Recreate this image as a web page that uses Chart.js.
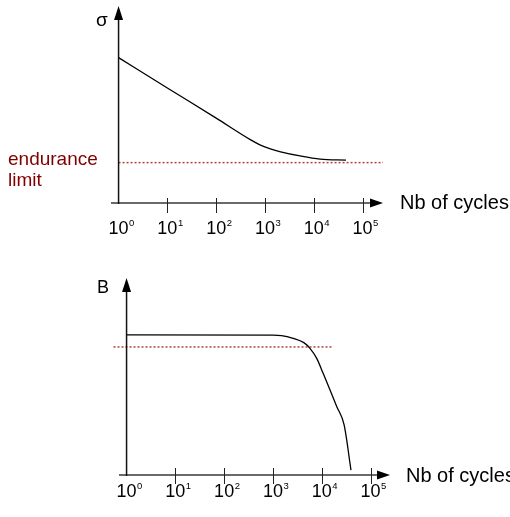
<!DOCTYPE html>
<html>
<head>
<meta charset="utf-8">
<script src="https://cdn.jsdelivr.net/npm/chart.js@4/dist/chart.umd.min.js"></script>
<style>
  html, body { margin: 0; padding: 0; background: #fff; }
  .wrap { position: relative; width: 510px; height: 517px; }
  canvas { position: absolute; left: 0; }
  #top { top: 0; }
  #bottom { top: 258px; }
</style>
</head>
<body>
<div class="wrap">
  <canvas id="top" width="510" height="258"></canvas>
  <canvas id="bottom" width="510" height="259"></canvas>
</div>
<script>
// x ticks (cycles, log scale) and their exponents
const tickValues = [1, 10, 100, 1000, 10000, 100000];
const tickExponents = ['0', '1', '2', '3', '4', '5'];

// top: stress vs number of cycles
const sigmaCycles = [1, 10, 100, 500, 810, 1290, 2090, 5250, 13500, 45700];
const sigmaValues = [73.8, 58.4, 43.1, 32.2, 29.4, 27.5, 26.0, 23.9, 22.3, 21.8];
const enduranceCycles = [1, 262000];
const enduranceValues = [20.5, 20.5];

// bottom: B vs number of cycles
const bCycles = [1, 1000, 1500, 2600, 4300, 5750, 7900, 10700, 14800, 20400, 28800, 39800];
const bValues = [71.1, 71.0, 70.8, 69.4, 67.2, 64.3, 59.2, 51.6, 43.1, 34.7, 25.4, 2.5];
const bLimitCycles = [0.54, 16100];
const bLimitValues = [65.0, 65.0];

const FONT = "'Liberation Sans', Arial, sans-serif";
Chart.defaults.font.family = FONT;
Chart.defaults.color = '#000';

const pts = (xs, ys) => xs.map((x, i) => ({ x: x, y: ys[i] }));

// axes with arrows, cross ticks, 10^n tick labels and free text labels
const axisDeco = {
  id: 'axisDeco',
  afterDraw(chart, args, opts) {
    const { ctx, chartArea: a } = chart;
    const x = chart.scales.x;
    const x0 = x.getPixelForValue(1);
    const yb = a.bottom;
    ctx.save();
    // x axis
    ctx.strokeStyle = '#6a6a6a';
    ctx.lineWidth = 2;
    ctx.beginPath();
    ctx.moveTo(a.left, yb);
    ctx.lineTo(a.right - 10, yb);
    ctx.stroke();
    // tick marks
    ctx.strokeStyle = '#222';
    ctx.lineWidth = 1;
    x.ticks.slice(1).forEach(t => {
      const px = Math.round(x.getPixelForValue(t.value)) + 0.5;
      ctx.beginPath();
      ctx.moveTo(px, yb - opts.tickUp);
      ctx.lineTo(px, yb + opts.tickDown);
      ctx.stroke();
    });
    // tick labels: "10" with a small raised exponent
    ctx.fillStyle = '#000';
    ctx.textBaseline = 'alphabetic';
    x.ticks.forEach((t, i) => {
      const px = x.getPixelForValue(t.value);
      const base = yb + opts.labelDy;
      ctx.font = '18px ' + FONT;
      ctx.textAlign = 'center';
      ctx.fillText('10', px, base);
      const w = ctx.measureText('10').width;
      ctx.font = '9.5px ' + FONT;
      ctx.textAlign = 'left';
      ctx.fillText(tickExponents[i], px + w / 2 + 0.5, base - 8);
    });
    // y axis
    ctx.strokeStyle = '#111';
    ctx.lineWidth = 1.5;
    ctx.beginPath();
    ctx.moveTo(x0, yb + 1);
    ctx.lineTo(x0, a.top + 10);
    ctx.stroke();
    // arrow heads
    ctx.fillStyle = '#000';
    ctx.beginPath();
    ctx.moveTo(x0, a.top);
    ctx.lineTo(x0 - 4.5, a.top + 14);
    ctx.lineTo(x0 + 4.5, a.top + 14);
    ctx.closePath();
    ctx.fill();
    ctx.beginPath();
    ctx.moveTo(a.right, yb);
    ctx.lineTo(a.right - 13, yb - 4.5);
    ctx.lineTo(a.right - 13, yb + 4.5);
    ctx.closePath();
    ctx.fill();
    // labels
    opts.texts.forEach(t => {
      ctx.font = t.size + 'px ' + FONT;
      ctx.fillStyle = t.color || '#000';
      ctx.textAlign = 'left';
      ctx.fillText(t.text, t.x, t.y);
    });
    ctx.restore();
  }
};

function makeOptions(xMin, xMax, pad, deco) {
  return {
    responsive: false,
    animation: false,
    layout: { padding: pad },
    plugins: {
      legend: { display: false },
      tooltip: { enabled: false },
      axisDeco: deco
    },
    scales: {
      x: {
        type: 'logarithmic',
        min: xMin,
        max: xMax,
        afterBuildTicks: s => { s.ticks = tickValues.map(v => ({ value: v })); },
        afterFit: s => { s.height = 40; },
        grid: { display: false, drawTicks: false },
        border: { display: false },
        ticks: { display: false }
      },
      y: { display: false, min: 0, max: 100 }
    }
  };
}

new Chart(document.getElementById('top'), {
  type: 'line',
  data: {
    datasets: [
      {
        data: pts(sigmaCycles, sigmaValues),
        borderColor: '#000', borderWidth: 1.3, pointRadius: 0,
        cubicInterpolationMode: 'monotone'
      },
      {
        data: pts(enduranceCycles, enduranceValues),
        borderColor: '#b0443c', borderWidth: 1.5, borderDash: [2, 2],
        pointRadius: 0, clip: false
      }
    ]
  },
  options: makeOptions(0.736, 261800, { left: 111, right: 127, top: 6, bottom: 15 }, {
    tickUp: 5, tickDown: 10, labelDy: 31,
    texts: [
      { text: '\u03c3', x: 96, y: 26, size: 19 },
      { text: 'endurance', x: 8, y: 165, size: 19, color: '#800000' },
      { text: 'limit', x: 8, y: 186, size: 19, color: '#800000' },
      { text: 'Nb of cycles', x: 400, y: 209, size: 20 }
    ]
  }),
  plugins: [axisDeco]
});

new Chart(document.getElementById('bottom'), {
  type: 'line',
  data: {
    datasets: [
      {
        data: pts(bCycles, bValues),
        borderColor: '#000', borderWidth: 1.3, pointRadius: 0,
        cubicInterpolationMode: 'monotone'
      },
      {
        data: pts(bLimitCycles, bLimitValues),
        borderColor: '#b0443c', borderWidth: 1.5, borderDash: [2, 2],
        pointRadius: 0, clip: false
      }
    ]
  },
  options: makeOptions(0.719, 251000, { left: 119, right: 120, top: 20, bottom: 2 }, {
    tickUp: 7, tickDown: 9, labelDy: 22,
    texts: [
      { text: 'B', x: 97, y: 35, size: 18 },
      { text: 'Nb of cycles', x: 406, y: 224, size: 20 }
    ]
  }),
  plugins: [axisDeco]
});
</script>
</body>
</html>
